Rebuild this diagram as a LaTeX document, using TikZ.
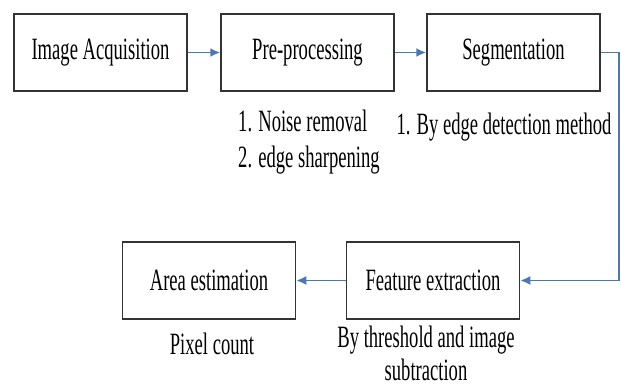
\documentclass[tikz,border=0pt]{standalone}
\usepackage{fontspec}
\setmainfont{Liberation Serif}[FakeStretch=0.6]
\usetikzlibrary{arrows.meta,positioning}
\definecolor{arrowblue}{HTML}{4A78B0}

\begin{document}
\begin{tikzpicture}[x=1pt,y=-1pt]
\tikzset{
  stepbox/.style={rectangle,draw=black!80,line width=1.5pt,minimum width=173pt,minimum height=77pt,inner sep=0pt,font=\fontsize{31}{39}\selectfont},
  note/.style={inner sep=0pt,font=\fontsize{31}{36}\selectfont,text=black},
  directed/.style={-{Latex[length=10pt,width=9pt]},draw=arrowblue,line width=1.8pt}
}
\useasboundingbox (0,0) rectangle (621,387);
\node[stepbox] (n_acq) at (100.5,52.5) {Image Acquisition};
\node[stepbox] (n_pre) at (307.5,52.5) {Pre-processing};
\node[stepbox] (n_seg) at (513.5,52.5) {Segmentation};
\node[stepbox] (n_feat) at (433,280.5) {Feature extraction};
\node[stepbox] (n_area) at (209,280.5) {Area estimation};
\node[note,anchor=west,align=left] (t_pre) at (238,142.5) {1. Noise removal\\2. edge sharpening};
\node[note] (t_seg) at (504,127) {1. By edge detection method};
\node[note] (t_area) at (212,344) {Pixel count};
\node[note,align=center,font=\fontsize{31}{33}\selectfont] (t_feat) at (426,353) {By threshold and image\\subtraction};
\coordinate (c_turn) at (619,52.5);
\draw[directed] (n_acq) -- (n_pre);
\draw[directed] (n_pre) -- (n_seg);
\draw[directed] (n_seg.east) -- (c_turn) |- (n_feat.east);
\draw[directed] (n_feat) -- (n_area);
\end{tikzpicture}
\end{document}
